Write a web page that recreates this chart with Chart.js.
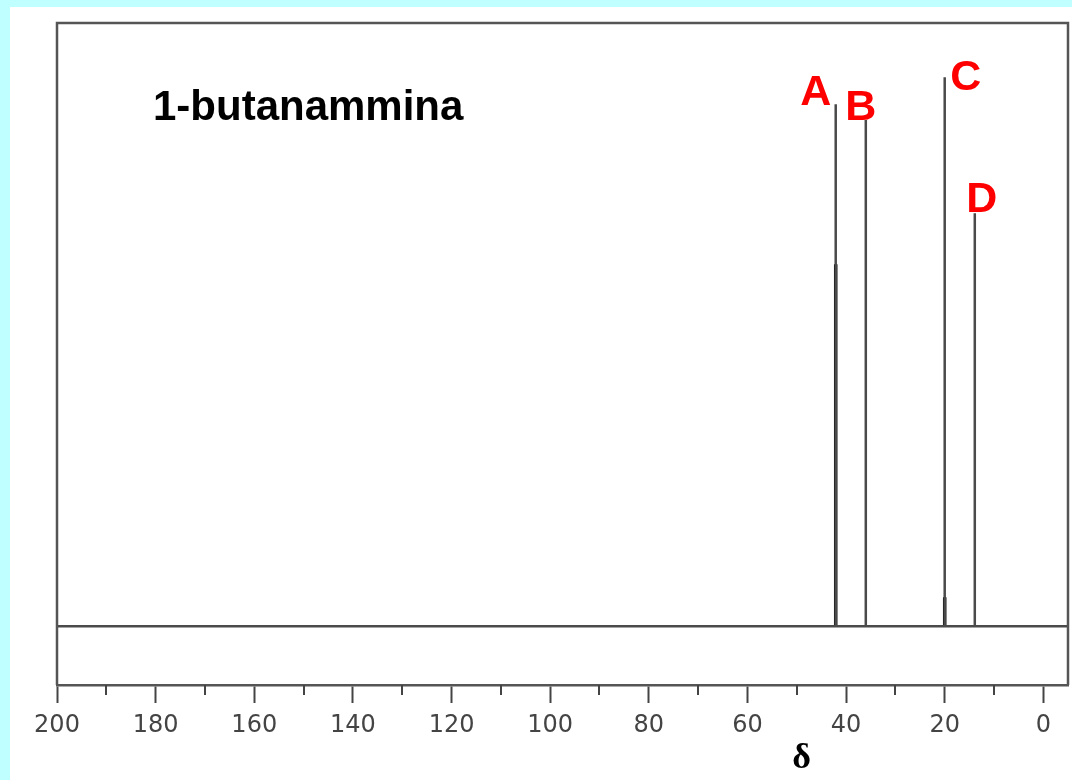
<!DOCTYPE html>
<html>
<head>
<meta charset="utf-8">
<title>1-butanammina</title>
<script src="https://cdn.jsdelivr.net/npm/chart.js@4.4.1/dist/chart.umd.min.js"></script>
<style>
    html, body { margin: 0; padding: 0; }
    body { width: 1072px; height: 780px; background: #c0ffff; position: relative; overflow: hidden; }
    #sheet { position: absolute; left: 10px; top: 7px; right: 0; bottom: 0; background: #fff; }
    #spectrum { position: absolute; left: 0; top: 0; }
</style>
</head>
<body>
<div id="sheet"></div>
<canvas id="spectrum" width="1072" height="780"></canvas>
<script>
// 13C peaks
const peakLabels = ['A', 'B', 'C', 'D'];
const peakShifts = [42.1, 36.0, 20.0, 13.9];
const peakHeights = [95.2, 92.3, 100.1, 75.3];
// darker inner trace on A and C
const innerHeights = [66.0, 0, 5.3, 0];

const majorTicks = [200, 180, 160, 140, 120, 100, 80, 60, 40, 20, 0];
const minorTicks = [190, 170, 150, 130, 110, 90, 70, 50, 30, 10];

// stick spectrum: baseline from 200 to -5 with a spike at each shift
function stickLine(heights) {
    const pts = [{ x: 200, y: 0 }];
    const order = peakShifts.map((s, i) => i).sort((a, b) => peakShifts[b] - peakShifts[a]);
    order.forEach(i => {
        if (!heights[i]) return;
        pts.push({ x: peakShifts[i], y: 0 });
        pts.push({ x: peakShifts[i], y: heights[i] });
        pts.push({ x: peakShifts[i], y: 0 });
    });
    pts.push({ x: -5, y: 0 });
    return pts;
}

function innerSticks() {
    const pts = [];
    peakShifts.forEach((s, i) => {
        if (!innerHeights[i]) return;
        pts.push({ x: s, y: 0 });
        pts.push({ x: s, y: innerHeights[i] });
        pts.push({ x: s, y: null });
    });
    return pts;
}

const decorations = {
    id: 'decorations',
    afterDraw(chart, args, opts) {
        const ctx = chart.ctx;
        const area = chart.chartArea;
        const xs = chart.scales.x;
        const ys = chart.scales.y;
        ctx.save();

        // frame (bottom edge is the x axis border)
        ctx.strokeStyle = '#555';
        ctx.lineWidth = 2.5;
        ctx.beginPath();
        ctx.moveTo(area.left, area.bottom);
        ctx.lineTo(area.left, area.top);
        ctx.lineTo(area.right, area.top);
        ctx.lineTo(area.right, area.bottom);
        ctx.stroke();

        // minor ticks
        ctx.strokeStyle = '#444';
        ctx.lineWidth = 2;
        ctx.beginPath();
        minorTicks.forEach(v => {
            const px = Math.round(xs.getPixelForValue(v));
            ctx.moveTo(px, area.bottom);
            ctx.lineTo(px, area.bottom + 10);
        });
        ctx.stroke();

        // compound name
        ctx.fillStyle = '#000';
        ctx.font = 'bold 42px "Liberation Sans", Arial, sans-serif';
        ctx.textAlign = 'left';
        ctx.textBaseline = 'alphabetic';
        ctx.fillText(opts.title, area.left + 96, 120);

        // peak letters
        ctx.fillStyle = '#ff0000';
        ctx.font = 'bold 43px "Liberation Sans", Arial, sans-serif';
        ctx.textAlign = 'center';
        peakLabels.forEach((lab, i) => {
            const px = xs.getPixelForValue(peakShifts[i]);
            const py = ys.getPixelForValue(peakHeights[i]);
            const off = opts.labelOffsets[i];
            ctx.fillText(lab, px + off[0], py + off[1]);
        });

        // axis symbol
        ctx.fillStyle = '#000';
        ctx.font = 'bold 36px "Liberation Serif", "Times New Roman", serif';
        ctx.fillText('δ', xs.getPixelForValue(49), 768);

        ctx.restore();
    }
};

new Chart(document.getElementById('spectrum'), {
    type: 'line',
    data: {
        datasets: [
            {
                data: stickLine(peakHeights),
                borderColor: '#4a4a4a',
                borderWidth: 2.5,
                pointRadius: 0,
                tension: 0
            },
            {
                data: innerSticks(),
                borderColor: '#000',
                borderWidth: 3.5,
                pointRadius: 0,
                tension: 0,
                spanGaps: false
            }
        ]
    },
    options: {
        responsive: false,
        animation: false,
        layout: {
            padding: { left: 57, top: 23, right: 4, bottom: 0 }
        },
        scales: {
            x: {
                type: 'linear',
                reverse: true,
                min: -5,
                max: 200,
                border: { display: true, color: '#555', width: 2.5 },
                grid: {
                    drawOnChartArea: false,
                    drawTicks: true,
                    tickLength: 18,
                    tickColor: '#444',
                    tickWidth: 2
                },
                ticks: {
                    color: '#444',
                    padding: 8,
                    maxRotation: 0,
                    autoSkip: false,
                    font: { family: '"DejaVu Sans", Verdana, sans-serif', size: 24 }
                },
                afterBuildTicks: function(scale) {
                    scale.ticks = majorTicks.map(v => ({ value: v }));
                },
                afterFit: function(scale) {
                    scale.height = 95;
                }
            },
            y: {
                display: false,
                min: -10.7,
                max: 110
            }
        },
        plugins: {
            legend: { display: false },
            tooltip: { enabled: false },
            decorations: {
                title: '1-butanammina',
                labelOffsets: [[-20, 1], [-5, 0], [21, 13], [7, -1]]
            }
        }
    },
    plugins: [decorations]
});
</script>
</body>
</html>
